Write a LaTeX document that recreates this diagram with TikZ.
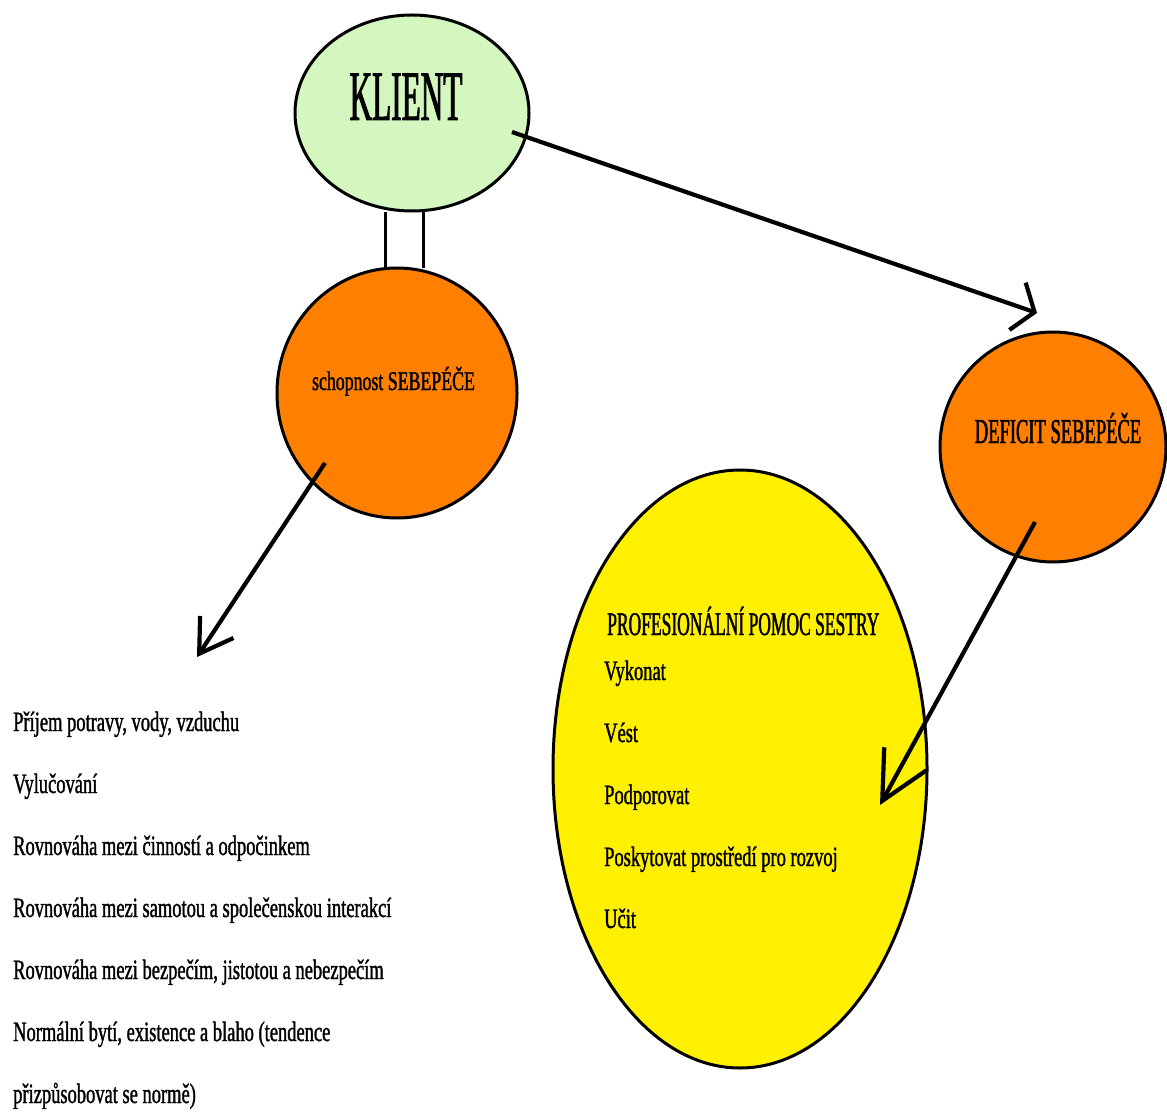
\documentclass[tikz,border=0pt]{standalone}
\usepackage{fontspec}
\setmainfont{Liberation Serif}[FakeStretch=0.66, FakeBold=1.2]
\newfontfamily\capsfont{Liberation Serif}[FakeStretch=0.53, FakeBold=1.2]
\newfontfamily\titlefont{Liberation Serif}[FakeStretch=0.44, FakeBold=1.2]
\usepackage{tikz}
\usetikzlibrary{shapes.geometric, arrows.meta, positioning}
\definecolor{klientgreen}{RGB}{212,246,191}
\definecolor{selforange}{RGB}{255,128,0}
\definecolor{helpyellow}{RGB}{255,240,0}
\tikzset{
  bubble/.style={ellipse, draw=black, line width=3pt, inner sep=0pt},
  item/.style={anchor=base west, inner sep=0pt, font=\fontsize{28}{28}\selectfont},
  arrow/.style={line width=4.2pt, color=black},
  line/.style={line width=3pt, color=black}
}
\begin{document}
\begin{tikzpicture}[x=1pt, y=-1pt]
  \useasboundingbox (0,0) rectangle (1167,1115);
  \fill[white] (0,0) rectangle (1167,1115);

  % --- shapes ---
  \node[bubble, fill=klientgreen, minimum width=234pt, minimum height=196pt] (klient) at (412,113) {};
  \node[inner sep=0pt, minimum width=37pt, minimum height=56pt] (bond) at (404.5,240) {};
  \node[bubble, fill=selforange, minimum width=240pt, minimum height=250pt] (schopnost) at (397,393) {};
  \node[bubble, fill=selforange, minimum width=226pt, minimum height=230pt] (deficit) at (1053,447) {};
  \node[bubble, fill=helpyellow, minimum width=374pt, minimum height=598pt] (pomoc) at (740,769) {};

  \draw[line] (bond.north west) -- (bond.south west);
  \draw[line] (bond.north east) -- (bond.south east);

  % --- labels in the bubbles ---
  \node[inner sep=0pt, anchor=base, font=\titlefont\fontsize{71}{71}\selectfont] (klienttxt) at (406,120) {KLIENT};
  \node[inner sep=0pt, anchor=base, font=\fontsize{27}{27}\selectfont] (schopnosttxt) at (393.5,390) {schopnost SEBEPÉČE};
  \node[inner sep=0pt, anchor=base, font=\capsfont\fontsize{35}{35}\selectfont] (deficittxt) at (1058,443) {DEFICIT SEBEPÉČE};
  \node[item, font=\capsfont\fontsize{33}{33}\selectfont] (pomoctxt) at (607,635) {PROFESIONÁLNÍ POMOC SESTRY};

  % --- ways of help ---
  \node[item] (vykonat) at (604,680) {Vykonat};
  \node[item] (vest) at (604,742) {Vést};
  \node[item] (podporovat) at (604,804) {Podporovat};
  \node[item] (poskytovat) at (604,866) {Poskytovat prostředí pro rozvoj};
  \node[item] (ucit) at (604,928) {Učit};

  % --- self-care needs ---
  \node[item] (need1) at (13,731) {Příjem potravy, vody, vzduchu};
  \node[item] (need2) at (13,793) {Vylučování};
  \node[item] (need3) at (13,855) {Rovnováha mezi činností a odpočinkem};
  \node[item] (need4) at (13,917) {Rovnováha mezi samotou a společenskou interakcí};
  \node[item] (need5) at (13,979) {Rovnováha mezi bezpečím, jistotou a nebezpečím};
  \node[item] (need6) at (13,1041) {Normální bytí, existence a blaho (tendence};
  \node[item] (need7) at (13,1103) {přizpůsobovat se normě)};

  % --- arrows ---
  \coordinate (kstart) at (512,132);
  \coordinate (dtip) at (1037,313);
  \coordinate (sstart) at (325,463);
  \coordinate (ntip) at (197,657);
  \coordinate (dstart) at (1035,522);
  \coordinate (ptip) at (880,805);
  \draw[arrow, -{Straight Barb[length=18pt, width=50pt]}] (kstart) -- (dtip);
  \draw[arrow, -{Straight Barb[length=32pt, width=40pt]}] (sstart) -- (ntip);
  \draw[arrow, -{Straight Barb[length=48pt, width=48pt]}] (dstart) -- (ptip);
\end{tikzpicture}
\end{document}
